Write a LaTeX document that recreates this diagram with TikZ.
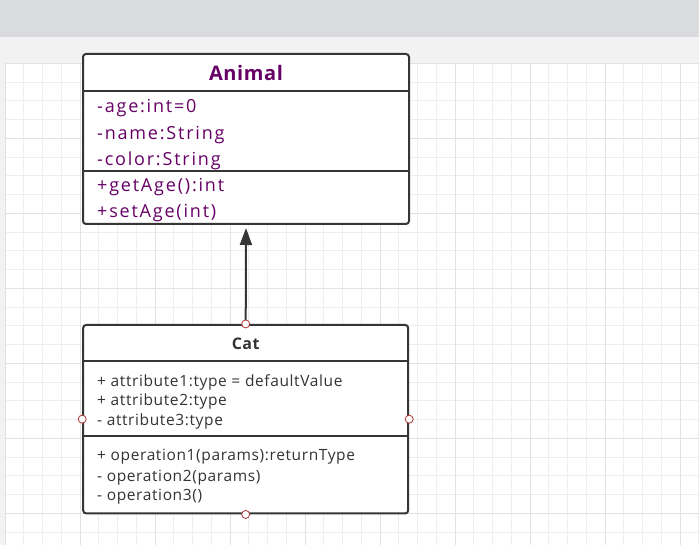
\documentclass[tikz,border=0pt]{standalone}
\usepackage{fontspec}
\setmainfont{Open Sans}
\usetikzlibrary{arrows.meta,calc}
\definecolor{topbar}{HTML}{DADBDF}
\definecolor{strip}{HTML}{F2F2F2}
\definecolor{gridminor}{HTML}{EEEEEE}
\definecolor{gridmajor}{HTML}{E2E2E2}
\definecolor{umlpurple}{HTML}{660066}
\definecolor{umltext}{HTML}{333333}
\definecolor{umlborder}{HTML}{363636}
\definecolor{portred}{HTML}{B03535}
\newfontfamily\animalfont[LetterSpace=10]{Open Sans}
\newfontfamily\catfont[LetterSpace=4]{Open Sans}
\newfontfamily\titlefont[LetterSpace=3]{Open Sans Bold}
\tikzset{
  umlbox/.style={draw=umlborder, line width=2pt, rounded corners=3pt, fill=white, inner sep=0pt},
  divider/.style={draw=umlborder, line width=2pt},
  animaltxt/.style={anchor=base west, inner sep=0pt, text=umlpurple, font=\animalfont\fontsize{18}{20}\selectfont},
  animaltitle/.style={anchor=base, inner sep=0pt, text=umlpurple, font=\titlefont\fontsize{20}{22}\selectfont},
  cattxt/.style={anchor=base west, inner sep=0pt, text=umltext, font=\catfont\fontsize{15.5}{17}\selectfont},
  cattitle/.style={anchor=base, inner sep=0pt, text=umltext, font=\titlefont\fontsize{16}{18}\selectfont},
  port/.style={circle, draw=portred, fill=white, line width=0.8pt, minimum size=8pt, inner sep=0pt},
  inherit/.style={draw=umlborder, line width=2pt, -{Triangle[length=17pt,width=12pt]}, shorten >=3pt}
}
\begin{document}
\begin{tikzpicture}[x=1pt,y=-1pt]
\useasboundingbox (0,0) rectangle (699,545);
% background
\fill[strip] (0,0) rectangle (699,545);
\fill[topbar] (0,0) rectangle (699,37.3);
\fill[white] (5,63.3) rectangle (699,545);
\foreach \i in {0,...,37} {
  \pgfmathsetmacro{\xx}{5+18.75*\i}
  \draw[gridminor, line width=1pt] (\xx,63.3) -- (\xx,545);
}
\foreach \j in {0,...,26} {
  \pgfmathsetmacro{\yy}{63.3+18.75*\j}
  \draw[gridminor, line width=1pt] (5,\yy) -- (699,\yy);
}
\foreach \i in {0,...,9} {
  \pgfmathsetmacro{\xx}{5+75*\i}
  \draw[gridmajor, line width=1pt] (\xx,63.3) -- (\xx,545);
}
\foreach \j in {0,...,6} {
  \pgfmathsetmacro{\yy}{63.3+75*\j}
  \draw[gridmajor, line width=1pt] (5,\yy) -- (699,\yy);
}
% Animal class
\node[umlbox, minimum width=326pt, minimum height=170pt] (animal) at (246,139) {};
\draw[divider] ($(animal.north west)+(0,37.7)$) -- ($(animal.north east)+(0,37.7)$);
\draw[divider] ($(animal.north west)+(0,117.7)$) -- ($(animal.north east)+(0,117.7)$);
\node[animaltitle] (atitle) at (246,81) {Animal};
\node[animaltxt] (a1) at (97,113) {-age:int=0};
\node[animaltxt] (a2) at (97,139.3) {-name:String};
\node[animaltxt] (a3) at (97,165.3) {-color:String};
\node[animaltxt] (a4) at (97,192) {+getAge():int};
\node[animaltxt] (a5) at (97,218) {+setAge(int)};
% Cat class
\node[umlbox, minimum width=325pt, minimum height=188.5pt] (cat) at (245.7,419.2) {};
\draw[divider] ($(cat.north west)+(0,37.3)$) -- ($(cat.north east)+(0,37.3)$);
\draw[divider] ($(cat.north west)+(0,112)$) -- ($(cat.north east)+(0,112)$);
\node[cattitle] (ctitle) at (245.7,350) {Cat};
\node[cattxt] (c1) at (97,386) {+ attribute1:type = defaultValue};
\node[cattxt] (c2) at (97,406) {+ attribute2:type};
\node[cattxt] (c3) at (97,425.5) {- attribute3:type};
\node[cattxt] (c4) at (97,460.7) {+ operation1(params):returnType};
\node[cattxt] (c5) at (97,481) {- operation2(params)};
\node[cattxt] (c6) at (97,500.5) {- operation3()};
% inheritance
\draw[inherit] (cat.north) -- (animal.south);
% ports
\node[port] (pn) at (cat.north) {};
\node[port] (pw) at (cat.west) {};
\node[port] (pe) at (cat.east) {};
\node[port] (ps) at (cat.south) {};
\end{tikzpicture}
\end{document}
